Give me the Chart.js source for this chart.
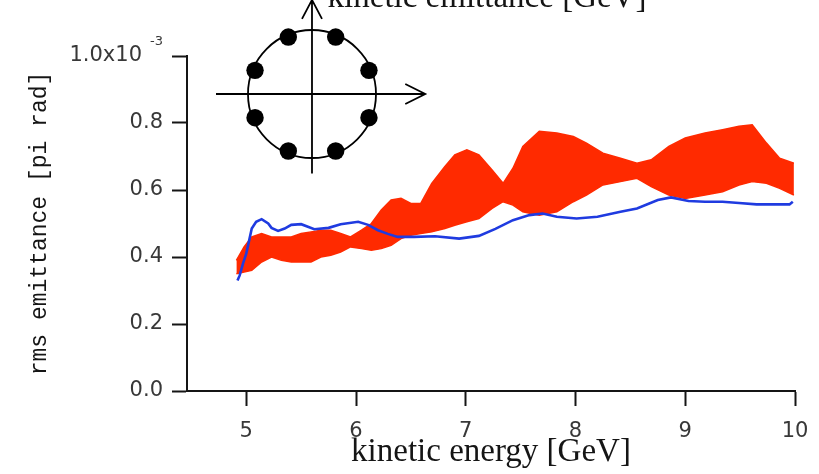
<!DOCTYPE html>
<html>
<head>
<meta charset="utf-8">
<title>rms emittance vs kinetic energy</title>
<script src="https://cdn.jsdelivr.net/npm/chart.js@4/dist/chart.umd.min.js"></script>
<style>
  html, body { margin: 0; padding: 0; background: #fff; }
  canvas { display: block; }
</style>
</head>
<body>
<canvas id="c" width="819" height="474"></canvas>
<script>
// Emittance values are in units of 1e-3 pi rad; energy in GeV.

// Oscillating (red) emittance: upper and lower envelope of the fast oscillation
const redEnergy = [4.91, 4.98, 5.05, 5.14, 5.23, 5.32, 5.41, 5.50, 5.59, 5.68, 5.77, 5.86, 5.95, 6.05, 6.14, 6.23,
                   6.32, 6.41, 6.50, 6.59, 6.69, 6.81, 6.90, 7.01, 7.12, 7.24, 7.34, 7.43, 7.52, 7.67, 7.83, 7.98,
                   8.10, 8.25, 8.41, 8.56, 8.69, 8.85, 9.00, 9.18, 9.34, 9.49, 9.61, 9.74, 9.86, 9.99];
const redUpper  = [0.39, 0.43, 0.46, 0.47, 0.46, 0.46, 0.46, 0.47, 0.475, 0.48, 0.48, 0.47, 0.46, 0.48, 0.50, 0.54,
                   0.57, 0.575, 0.56, 0.56, 0.62, 0.67, 0.705, 0.72, 0.705, 0.66, 0.62, 0.665, 0.73, 0.775, 0.77, 0.76,
                   0.74, 0.71, 0.695, 0.68, 0.69, 0.73, 0.755, 0.77, 0.78, 0.79, 0.795, 0.74, 0.695, 0.68];
const redLower  = [0.35, 0.355, 0.36, 0.385, 0.40, 0.39, 0.385, 0.385, 0.385, 0.40, 0.405, 0.415, 0.43, 0.425, 0.42, 0.425,
                   0.435, 0.455, 0.465, 0.47, 0.475, 0.485, 0.495, 0.505, 0.515, 0.545, 0.565, 0.555, 0.535, 0.525, 0.535, 0.565,
                   0.585, 0.615, 0.625, 0.635, 0.61, 0.585, 0.575, 0.585, 0.595, 0.615, 0.625, 0.62, 0.605, 0.585];

// Smooth (blue) emittance
const blueEnergy = [4.92, 4.94, 4.97, 5.00, 5.02, 5.05, 5.09, 5.14, 5.20, 5.23, 5.29, 5.35, 5.41, 5.50, 5.62, 5.75,
                    5.86, 6.02, 6.11, 6.20, 6.29, 6.38, 6.53, 6.72, 6.94, 7.12, 7.27, 7.43, 7.58, 7.70, 7.83, 8.01,
                    8.20, 8.41, 8.56, 8.75, 8.87, 9.03, 9.18, 9.34, 9.49, 9.65, 9.80, 9.95, 9.98];
const blueEmit   = [0.33, 0.345, 0.38, 0.41, 0.44, 0.485, 0.505, 0.513, 0.50, 0.487, 0.478, 0.485, 0.496, 0.498, 0.483, 0.487,
                    0.498, 0.505, 0.496, 0.48, 0.469, 0.46, 0.46, 0.462, 0.455, 0.463, 0.484, 0.51, 0.525, 0.53, 0.52, 0.515,
                    0.52, 0.535, 0.545, 0.57, 0.578, 0.567, 0.565, 0.565, 0.561, 0.557, 0.557, 0.557, 0.565];

// Axis ticks
const xTickValues = [5, 6, 7, 8, 9, 10];
const yTickValues = [0.0, 0.2, 0.4, 0.6, 0.8, 1.0];
const yTopLabel = '1.0x10';
const yTopExponent = '-3';

// Inset sketch: eight beamlets on a ring (ring radius = 1 in inset units)
const dotX = [0.37, 0.89, 0.89, 0.37, -0.37, -0.89, -0.89, -0.37];
const dotY = [0.89, 0.37, -0.37, -0.89, -0.89, -0.37, 0.37, 0.89];

const RED = '#ff2a00';
const BLUE = '#1f3be0';
const INK = '#151515';
const TICK_TEXT = '#383838';

const toPoints = (xs, ys) => xs.map((x, i) => ({ x: x, y: ys[i] }));

// Inset sketch (ring, axes, beamlets) placed through the hidden ix/iy scales,
// the exponent of the top y label, and the upper axis caption.
const decorations = {
  id: 'decorations',
  beforeDatasetsDraw(chart) {
    const ctx = chart.ctx;
    const ix = chart.scales.ix, iy = chart.scales.iy;
    const cx = ix.getPixelForValue(0), cy = iy.getPixelForValue(0);
    const r = ix.getPixelForValue(1) - cx;
    ctx.save();
    ctx.strokeStyle = '#000';
    ctx.lineWidth = 1.8;
    ctx.beginPath();
    ctx.arc(cx, cy, r, 0, Math.PI * 2);
    ctx.stroke();

    // horizontal axis with arrow
    const hx0 = ix.getPixelForValue(-1.5), hx1 = ix.getPixelForValue(1.77);
    ctx.beginPath();
    ctx.moveTo(hx0, cy); ctx.lineTo(hx1, cy);
    ctx.moveTo(hx1 - 20, cy - 10); ctx.lineTo(hx1, cy); ctx.lineTo(hx1 - 20, cy + 10);
    ctx.stroke();

    // vertical axis with arrow
    const vy0 = iy.getPixelForValue(-1.24), vy1 = iy.getPixelForValue(1.47);
    ctx.beginPath();
    ctx.moveTo(cx, vy0); ctx.lineTo(cx, vy1);
    ctx.moveTo(cx - 10, vy1 + 19); ctx.lineTo(cx, vy1); ctx.lineTo(cx + 10, vy1 + 19);
    ctx.stroke();

    // beamlets
    ctx.fillStyle = '#000';
    dotX.forEach((dx, i) => {
      ctx.beginPath();
      ctx.arc(ix.getPixelForValue(dx), iy.getPixelForValue(dotY[i]), 8.7, 0, Math.PI * 2);
      ctx.fill();
    });
    ctx.restore();
  },
  afterDraw(chart) {
    const ctx = chart.ctx;
    const y = chart.scales.y;
    ctx.save();
    // exponent of the top tick label
    ctx.fillStyle = TICK_TEXT;
    ctx.font = '13px "DejaVu Sans"';
    ctx.textAlign = 'right';
    ctx.textBaseline = 'alphabetic';
    ctx.fillText(yTopExponent, y.right - 24, y.getPixelForValue(1.0) - 11);

    // upper axis caption
    ctx.fillStyle = INK;
    ctx.font = '33px "Liberation Serif"';
    ctx.textAlign = 'center';
    ctx.fillText('kinetic emittance [GeV]', 487, 7);
    ctx.restore();
  }
};

new Chart(document.getElementById('c'), {
  type: 'scatter',
  data: {
    datasets: [
      {
        label: 'smooth',
        data: toPoints(blueEnergy, blueEmit),
        showLine: true,
        borderColor: BLUE,
        borderWidth: 2.6,
        pointRadius: 0,
        tension: 0,
        fill: false,
        order: 0
      },
      {
        label: 'oscillating upper',
        data: toPoints(redEnergy, redUpper),
        showLine: true,
        borderColor: RED,
        borderWidth: 1.5,
        pointRadius: 0,
        tension: 0,
        fill: false,
        order: 1
      },
      {
        label: 'oscillating lower',
        data: toPoints(redEnergy, redLower),
        showLine: true,
        borderColor: RED,
        backgroundColor: RED,
        borderWidth: 1.5,
        pointRadius: 0,
        tension: 0,
        fill: '-1',
        order: 1
      }
    ]
  },
  options: {
    responsive: false,
    animation: false,
    devicePixelRatio: 1,
    layout: { padding: { left: 0, top: 56, right: 24, bottom: 0 } },
    plugins: {
      legend: { display: false },
      tooltip: { enabled: false }
    },
    scales: {
      x: {
        type: 'linear',
        position: 'bottom',
        min: 4.46,
        max: 10,
        afterBuildTicks: s => { s.ticks = xTickValues.map(v => ({ value: v })); },
        afterFit: s => { s.height = 83; },
        grid: { drawOnChartArea: false, drawTicks: true, tickLength: 15, tickColor: INK, tickWidth: 2 },
        border: { display: true, color: INK, width: 2 },
        ticks: {
          color: TICK_TEXT,
          font: { family: 'DejaVu Sans', size: 21, lineHeight: 2.15 },
          padding: 3,
          maxRotation: 0,
          callback: v => String(v)
        },
        title: {
          display: true,
          text: 'kinetic energy [GeV]',
          color: INK,
          font: { family: 'Liberation Serif', size: 33, lineHeight: 1 },
          padding: { top: 0, bottom: 5 }
        }
      },
      y: {
        type: 'linear',
        position: 'left',
        min: 0,
        max: 1.0,
        afterBuildTicks: s => { s.ticks = yTickValues.map(v => ({ value: v })); },
        afterFit: s => { s.width = 187; },
        grid: { drawOnChartArea: false, drawTicks: true, tickLength: 15, tickColor: INK, tickWidth: 2 },
        border: { display: true, color: INK, width: 2 },
        ticks: {
          color: TICK_TEXT,
          font: { family: 'DejaVu Sans', size: 21 },
          padding: 9,
          callback: v => (v === 1 ? yTopLabel + '\u2002\u2002' : v.toFixed(1))
        },
        title: {
          display: true,
          text: 'rms emittance [pi rad]',
          color: INK,
          font: { family: 'Liberation Mono', size: 23, lineHeight: 1 },
          padding: { top: 28, bottom: 0 }
        }
      },
      // frame of the inset sketch (1 unit = ring radius)
      ix: { type: 'linear', axis: 'x', position: 'top', display: false, min: -1.953, max: 7.547 },
      iy: { type: 'linear', axis: 'y', position: 'right', display: false, min: -4.64, max: 0.594 }
    }
  },
  plugins: [decorations]
});
</script>
</body>
</html>
